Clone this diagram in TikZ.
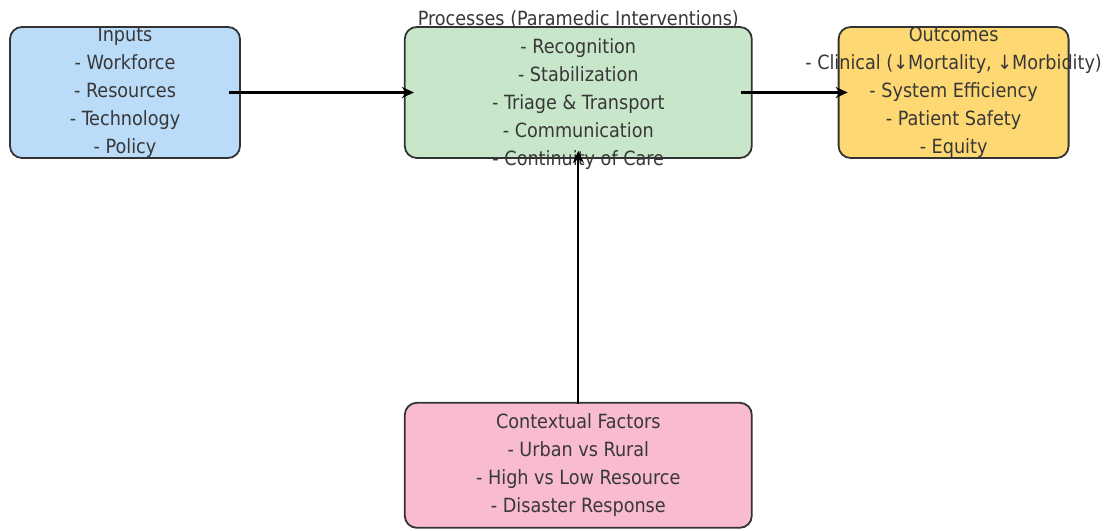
\documentclass[tikz,border=0pt]{standalone}
\usepackage{fontspec}
\setmainfont{DejaVu Sans Condensed}
\usepackage{xcolor}
\usetikzlibrary{positioning,arrows.meta}
\definecolor{inputblue}{HTML}{BADCF8}
\definecolor{processgreen}{HTML}{C8E6C9}
\definecolor{outcomeyellow}{HTML}{FDD873}
\definecolor{contextpink}{HTML}{F8BBD0}
\tikzset{box/.style={rectangle,rounded corners=12pt,draw=black!80,line width=1.8pt,inner sep=0pt},}
\tikzset{blue box/.style={box,fill=inputblue,minimum width=230pt,minimum height=131pt},}
\tikzset{green box/.style={box,fill=processgreen,minimum width=347pt,minimum height=131pt},}
\tikzset{yellow box/.style={box,fill=outcomeyellow,minimum width=230pt,minimum height=131pt},}
\tikzset{pink box/.style={box,fill=contextpink,minimum width=347pt,minimum height=125pt},}
\tikzset{box text/.style={align=center,text=black!78,inner sep=0pt,font=\fontsize{19.6}{28}\selectfont},}
\tikzset{flow/.style={-{Stealth[length=12pt,width=11pt]},line width=2.3pt},}
\begin{document}
\begin{tikzpicture}[x=1pt,y=1pt]
       \useasboundingbox (0,0) rectangle (1105,530);
       \node[blue box] (inputs) at (125,437.5) {};
       \node[green box] (processes) [right = 163pt of inputs] {};
       \node[yellow box] (outcomes) [right = 85pt of processes] {};
       \node[pink box] (context) [below = 243pt of processes] {};

       \node[box text] (inputs text) at (inputs) {Inputs\\- Workforce\\- Resources\\- Technology\\- Policy};
       \node[box text] (processes text) at ([yshift=2pt]processes) {Processes (Paramedic Interventions)\\- Recognition\\- Stabilization\\- Triage \& Transport\\- Communication\\- Continuity of Care};
       \node[box text] (outcomes text) at (outcomes) {Outcomes\\- Clinical (↓Mortality, ↓Morbidity)\\- System Efficiency\\- Patient Safety\\- Equity};
       \node[box text] (context text) at (context) {Contextual Factors\\- Urban vs Rural\\- High vs Low Resource\\- Disaster Response};

       \draw[flow]
       ([xshift=-12pt]inputs.east) -- ([xshift=10pt]processes.west);
       \draw[flow]
       ([xshift=-12pt]processes.east) -- ([xshift=10pt]outcomes.west);
       \draw[flow]
       ([yshift=-2pt]context.north) -- ([yshift=8pt]processes.south);
    \end{tikzpicture}
\end{document}
